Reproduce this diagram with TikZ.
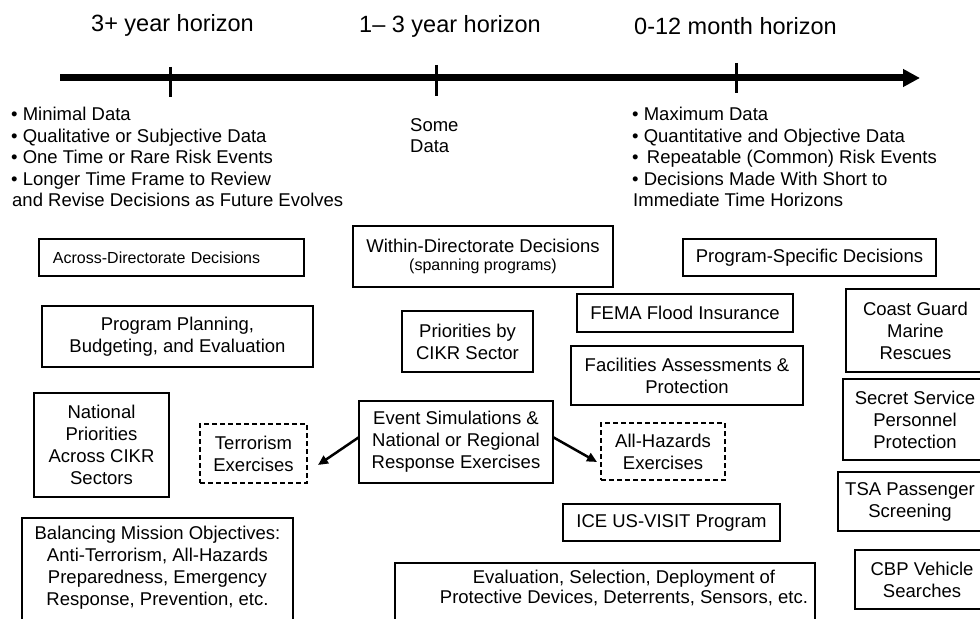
\documentclass[tikz,border=0pt]{standalone}
\usepackage{fontspec}
\setmainfont{Liberation Sans}
\usetikzlibrary{arrows.meta,calc}
\newcommand\fTitle{\fontsize{23.5bp}{27bp}\selectfont}
\newcommand\fMain{\fontsize{18.5bp}{22bp}\selectfont}
\newcommand\fSmall{\fontsize{16bp}{18bp}\selectfont}
\tikzset{
  box/.style={draw=black, line width=1.6bp, inner sep=0pt, align=center, font=\fMain},
  dbox/.style={box, dash pattern=on 5bp off 3bp, line width=2bp},
  txt/.style={inner sep=0pt, font=\fMain, anchor=base west},
  ctxt/.style={inner sep=0pt, font=\fMain, align=center},
  ttl/.style={inner sep=0pt, font=\fTitle, anchor=base west},
  arr/.style={line width=2.5bp, -{Triangle[length=10bp,width=9bp]}},
}
\begin{document}
\begin{tikzpicture}[x=1bp,y=-1bp]
\clip (0,0) rectangle (980,619);
\fill[white] (0,0) rectangle (980,619);

% titles
\node[ttl] (t1) at (91,32) {3+ year horizon};
\node[ttl] (t2) at (359,33) {1-- 3 year horizon};
\node[ttl] (t3) at (634,35) {0-12 month horizon};

% axis
\coordinate (axL) at (60,78);
\coordinate (axR) at (920,78);
\draw[line width=7bp, -{Triangle[length=17bp,width=17bp]}] (axL) -- (axR);
\coordinate (k1a) at (170,67); \coordinate (k1b) at (170,97);
\coordinate (k2a) at (436,65); \coordinate (k2b) at (436,96);
\coordinate (k3a) at (736,63); \coordinate (k3b) at (736,93);
\draw[line width=3bp] (k1a) -- (k1b);
\draw[line width=3bp] (k2a) -- (k2b);
\draw[line width=3bp] (k3a) -- (k3b);

% left bullet list
\node[txt] (l1) at (11,121) {• Minimal Data};
\node[txt] (l2) at (11,142.5) {• Qualitative or Subjective Data};
\node[txt] (l3) at (11,164) {• One Time or Rare Risk Events};
\node[txt] (l4) at (11,185.5) {• Longer Time Frame to Review};
\node[txt] (l5) at (12,207) {and Revise Decisions as Future Evolves};

% middle
\node[txt] (m1) at (410,132) {Some};
\node[txt] (m2) at (410,153) {Data};

% right bullet list
\node[txt] (r1) at (632,121) {• Maximum Data};
\node[txt] (r2) at (632,142.5) {• Quantitative and Objective Data};
\node[txt] (r3) at (632,164) {•\, Repeatable (Common) Risk Events};
\node[txt] (r4) at (632,185.5) {• Decisions Made With Short to};
\node[txt] (r5) at (633,207) {Immediate Time Horizons};

% boxes
\node[box, minimum width=265bp, minimum height=37bp, text width=237bp, align=left, font=\fSmall] (across) at (171.5,257.5) {Across-Directorate Decisions};
\node[box, minimum width=260bp, minimum height=61bp] (within) at (483,256.5) {Within-Directorate Decisions\\[-4bp]{\fSmall (spanning programs)}};
\node[box, minimum width=253bp, minimum height=37bp] (progspec) at (809.5,257.5) {Program-Specific Decisions};

\node[box, minimum width=271bp, minimum height=61bp] (prog) at (177.5,336.5) {Program Planning,\\Budgeting, and Evaluation};
\node[box, minimum width=131bp, minimum height=61bp] (cikr) at (467.5,341.5) {Priorities by\\CIKR Sector};
\node[box, minimum width=216bp, minimum height=38bp] (fema) at (685,313) {FEMA Flood Insurance};
\node[box, minimum width=232bp, minimum height=59bp] (fac) at (687,375.5) {Facilities Assessments \&\\Protection};
\node[box, minimum width=139bp, minimum height=83bp] (coast) at (915.5,330.5) {Coast Guard\\Marine\\Rescues};
\node[box, minimum width=144bp, minimum height=81bp] (secret) at (915,419.5) {Secret Service\\Personnel\\Protection};

\node[box, minimum width=135bp, minimum height=104bp] (natl) at (101.5,445) {National\\Priorities\\Across CIKR\\Sectors};
\node[dbox, minimum width=107bp, minimum height=59bp] (terr) at (253.5,453.5) {Terrorism\\Exercises};
\node[box, minimum width=194bp, minimum height=82bp] (event) at (456,442) {Event Simulations \&\\National or Regional\\Response Exercises};
\node[dbox, minimum width=124bp, minimum height=57bp] (allhaz) at (663,451.5) {All-Hazards\\Exercises};
\node[box, minimum width=144bp, minimum height=59bp] (tsa) at (910,501.5) {TSA Passenger\\Screening};

\node[box, minimum width=217bp, minimum height=37bp] (ice) at (671.5,522.5) {ICE US-VISIT Program};
\node[box, minimum width=134bp, minimum height=59bp] (cbp) at (922,579.5) {CBP Vehicle\\Searches};

\node[box, minimum width=271bp, minimum height=142bp] (bal) at (157.5,589) {};
\node[ctxt] (baltxt) at (157.5,568) {Balancing Mission Objectives:\\Anti-Terrorism, All-Hazards\\Preparedness, Emergency\\Response, Prevention, etc.};
\node[box, minimum width=420bp, minimum height=97bp] (eval) at (605,611.5) {};
\node[ctxt] (evaltxt) at (624,588) {Evaluation, Selection, Deployment of\\[-2bp]Protective Devices, Deterrents, Sensors, etc.};

% arrows
\draw[arr] ($(event.west)+(1,-5)$) -- ($(terr.east)+(10,11.5)$);
\draw[arr] ($(event.east)+(-1,-5)$) -- ($(allhaz.west)+(-3,10.5)$);
\end{tikzpicture}
\end{document}
